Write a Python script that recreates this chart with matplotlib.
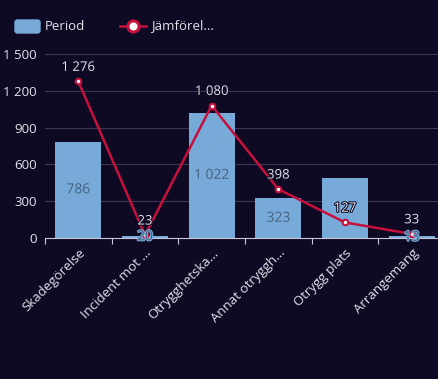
import matplotlib.pyplot as plt
import matplotlib.patheffects as pe
from matplotlib.patches import FancyBboxPatch
from matplotlib.lines import Line2D

# --- Data ---
categories = ["Skadegörelse", "Incident mot ...", "Otrygghetska...",
              "Annat otryggh...", "Otrygg plats", "Arrangemang"]
period = [786, 20, 1022, 323, 489, 13]
comparison = [1276, 23, 1080, 398, 127, 33]
# bar labels that the original chart hides behind the line labels
show_bar_label = [True, True, True, True, False, True]

BG = "#0f0a24"
BAR = "#77aad8"
LINE = "#c8103c"
TXT = "#e2e2ea"
FS = 9.5

def fmt(v):
    return f"{v:,}".replace(",", " ")

plt.rcParams["font.family"] = ["Open Sans", "DejaVu Sans"]

fig = plt.figure(figsize=(4.39, 3.79), dpi=100, facecolor=BG)
ax = fig.add_axes([45 / 439, 141 / 379, 400 / 439, 184 / 379], facecolor=BG)

x = list(range(len(categories)))
ax.bar(x, period, width=0.69, color=BAR, zorder=2)
ax.plot(x, comparison, color=LINE, lw=1.8, zorder=3,
        marker="o", markersize=4, markerfacecolor="white",
        markeredgecolor=LINE, markeredgewidth=1.5)

for xi, v, show in zip(x, period, show_bar_label):
    if show:
        ax.text(xi, v / 2, fmt(v), ha="center", va="center", fontsize=FS + 0.5,
                color="#46627f", zorder=4,
                path_effects=[pe.withStroke(linewidth=1.5, foreground=BAR)])

for xi, v in zip(x, comparison):
    ax.annotate(fmt(v), (xi, v), xytext=(0, 5.5), textcoords="offset points",
                ha="center", va="bottom", fontsize=FS, color=TXT, zorder=5,
                path_effects=[pe.withStroke(linewidth=1.5, foreground=BG)])

ax.set_xlim(-0.5, len(categories) - 0.5)
ax.set_ylim(0, 1500)
yt = [0, 300, 600, 900, 1200, 1500]
ax.set_yticks(yt)
ax.set_yticklabels([fmt(t) for t in yt], color=TXT, fontsize=FS)
ax.grid(axis="y", color="#3c3854", lw=0.8, zorder=0)
ax.set_axisbelow(True)

ax.set_xticks([i - 0.5 for i in range(len(categories) + 1)])
ax.set_xticklabels([])
ax.set_xticks(x, minor=True)
ax.set_xticklabels(categories, minor=True, rotation=45, ha="right",
                   rotation_mode="anchor", color=TXT, fontsize=FS)
ax.tick_params(axis="x", which="major", length=4, color="#c8c8d8", direction="out")
ax.tick_params(axis="x", which="minor", length=0, pad=6)
ax.tick_params(axis="y", length=0, pad=6)

for s in ["top", "right", "left"]:
    ax.spines[s].set_visible(False)
ax.spines["bottom"].set_color("#c8c8d8")

# --- Legend (drawn by hand at top left) ---
fig.patches.append(FancyBboxPatch((15 / 439, 1 - 33 / 379), 25 / 439, 13 / 379,
                                  boxstyle="round,pad=0,rounding_size=0.006",
                                  transform=fig.transFigure, color=BAR))
fig.text(45 / 439, 1 - 26 / 379, "Period", color=TXT, fontsize=FS, va="center")
fig.lines.append(Line2D([120 / 439, 146 / 439], [1 - 26 / 379] * 2,
                        transform=fig.transFigure, color=LINE, lw=1.8))
fig.lines.append(Line2D([133 / 439], [1 - 26 / 379], transform=fig.transFigure,
                        color=LINE, marker="o", markersize=8,
                        markerfacecolor="white", markeredgecolor=LINE,
                        markeredgewidth=2.2))
fig.text(151 / 439, 1 - 26 / 379, "Jämförel...", color=TXT, fontsize=FS, va="center")

fig.savefig("out.png", dpi=100, facecolor=BG)
